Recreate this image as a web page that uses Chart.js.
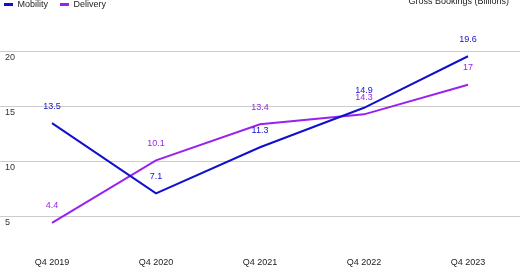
<!DOCTYPE html>
<html>
<head>
<meta charset="utf-8">
<script src="https://cdn.jsdelivr.net/npm/chart.js@4"></script>
<style>
  body { margin: 0; background: #fff; overflow: hidden; }
  #wrap { position: relative; width: 520px; height: 272px; overflow: hidden; }
  #wrap canvas { position: absolute; left: 0; top: -12px; }
</style>
</head>
<body>
<div id="wrap"><canvas id="chart" width="520" height="284"></canvas></div>
<script>
const quarters = ["Q4 2019", "Q4 2020", "Q4 2021", "Q4 2022", "Q4 2023"];
const mobility = [13.5, 7.1, 11.3, 14.9, 19.6];
const delivery = [4.4, 10.1, 13.4, 14.3, 17];
const yTicks = [5, 10, 15, 20];
const chartTitle = "Gross Bookings (Billions)";

const font = "'Liberation Sans', Arial, sans-serif";
const colors = { mobility: "#1111cc", delivery: "#9922ee" };

// valeurs au-dessus des points
const pointLabels = {
  id: "pointLabels",
  afterDatasetsDraw(chart) {
    const ctx = chart.ctx;
    ctx.save();
    ctx.font = "9px " + font;
    ctx.textAlign = "center";
    ctx.textBaseline = "middle";
    chart.data.datasets.forEach((ds, i) => {
      chart.getDatasetMeta(i).data.forEach((pt, j) => {
        ctx.fillStyle = ds.borderColor;
        ctx.fillText(String(ds.data[j]), pt.x, pt.y - 17);
      });
    });
    ctx.restore();
  },
};

// titre en haut à droite + légende collée au bord gauche
const cornerTitle = {
  id: "cornerTitle",
  afterLayout(chart) {
    if (chart.legend) chart.legend.left = -8;
  },
  afterDraw(chart) {
    const ctx = chart.ctx;
    ctx.save();
    ctx.font = "9px " + font;
    ctx.fillStyle = "#222";
    ctx.textAlign = "right";
    ctx.textBaseline = "alphabetic";
    ctx.fillText(chartTitle, 509, 16);
    ctx.restore();
  },
};

new Chart(document.getElementById("chart"), {
  type: "line",
  data: {
    labels: quarters,
    datasets: [
      {
        label: "Mobility",
        data: mobility,
        borderColor: colors.mobility,
        backgroundColor: colors.mobility,
        borderWidth: 2,
        pointRadius: 0,
        tension: 0,
      },
      {
        label: "Delivery",
        data: delivery,
        borderColor: colors.delivery,
        backgroundColor: colors.delivery,
        borderWidth: 2,
        pointRadius: 0,
        tension: 0,
      },
    ],
  },
  options: {
    responsive: false,
    animation: false,
    layout: { padding: { left: 0, right: 0, top: 0, bottom: 4 } },
    plugins: {
      legend: {
        position: "top",
        align: "start",
        labels: {
          boxWidth: 9,
          boxHeight: 3,
          padding: 12,
          color: "#222",
          font: { family: font, size: 9 },
          generateLabels: (chart) =>
            Chart.defaults.plugins.legend.labels
              .generateLabels(chart)
              .map((l) => ({ ...l, lineWidth: 0 })),
        },
      },
      tooltip: { enabled: false },
    },
    scales: {
      x: {
        offset: true,
        grid: { display: false },
        border: { display: false },
        ticks: {
          color: "#222",
          padding: 0,
          maxRotation: 0,
          font: { family: font, size: 9 },
        },
      },
      y: {
        min: 2,
        max: 23,
        afterBuildTicks: (axis) => {
          axis.ticks = yTicks.map((v) => ({ value: v }));
        },
        afterFit: (axis) => {
          axis.width = 0;
        },
        grid: { color: "#cccccc", lineWidth: 1, drawTicks: false },
        border: { display: false },
        ticks: {
          mirror: true,
          padding: 5,
          labelOffset: 6,
          color: "#333",
          font: { family: font, size: 9 },
        },
      },
    },
  },
  plugins: [pointLabels, cornerTitle],
});
</script>
</body>
</html>
